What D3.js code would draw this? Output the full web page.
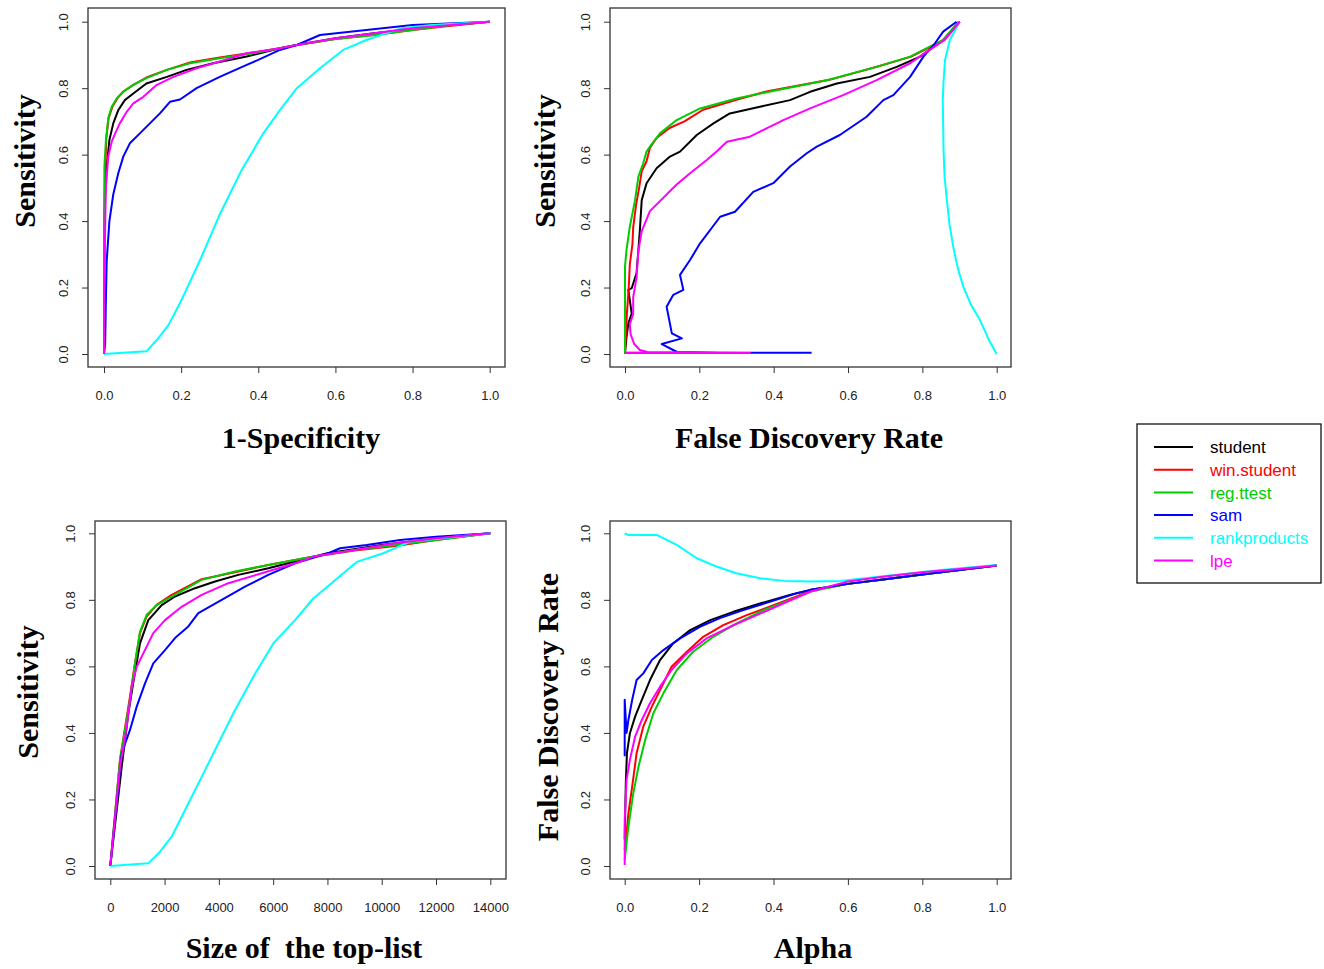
<!DOCTYPE html>
<html>
<head>
<meta charset="utf-8">
<script src="https://cdn.jsdelivr.net/npm/d3@7"></script>
<style>
  html, body { margin: 0; padding: 0; background: #fff; }
  svg { display: block; }
</style>
</head>
<body>
<svg id="chart" width="1324" height="969"></svg>
<script>
// ---------------- DATA ----------------
const methods = ["student", "win.student", "reg.ttest", "sam", "rankproducts", "lpe"];
const methodColors = ["#000000", "#ff0000", "#00cd00", "#0000ff", "#00ffff", "#ff00ff"];

const unitTicks = [0, 0.2, 0.4, 0.6, 0.8, 1.0];
const unitTickLabels = ["0.0", "0.2", "0.4", "0.6", "0.8", "1.0"];
const sizeTicks = [0, 2000, 4000, 6000, 8000, 10000, 12000, 14000];
const sizeTickLabels = ["0", "2000", "4000", "6000", "8000", "10000", "12000", "14000"];

// Panel 1: 1-Specificity vs Sensitivity
const roc_student = [[0,0],[0.001,0.3],[0.003,0.484],[0.007,0.564],[0.014,0.644],[0.024,0.694],[0.037,0.734],[0.054,0.764],[0.076,0.784],[0.11,0.814],[0.163,0.834],[0.214,0.855],[0.283,0.875],[0.37,0.895],[0.456,0.92],[0.5,0.93],[0.6,0.95],[0.7,0.965],[0.8,0.978],[0.9,0.99],[1,1]];
const roc_win = [[0,0],[0,0.38],[0.003,0.55],[0.006,0.65],[0.012,0.71],[0.022,0.745],[0.035,0.77],[0.05,0.79],[0.076,0.81],[0.11,0.832],[0.163,0.855],[0.223,0.877],[0.3,0.892],[0.387,0.907],[0.456,0.92],[0.5,0.93],[0.6,0.948],[0.7,0.96],[0.8,0.975],[0.9,0.988],[1,1]];
const roc_reg = [[0,0],[0,0.213],[0.001,0.564],[0.005,0.644],[0.011,0.709],[0.02,0.744],[0.033,0.769],[0.05,0.789],[0.076,0.81],[0.11,0.83],[0.163,0.855],[0.223,0.875],[0.3,0.89],[0.387,0.905],[0.456,0.92],[0.5,0.93],[0.6,0.948],[0.7,0.96],[0.8,0.975],[0.9,0.99],[1,1]];
const roc_sam = [[0,0],[0.003,0.03],[0.005,0.17],[0.007,0.28],[0.014,0.40],[0.024,0.48],[0.037,0.544],[0.05,0.594],[0.067,0.634],[0.093,0.664],[0.119,0.694],[0.145,0.724],[0.171,0.759],[0.197,0.766],[0.24,0.80],[0.30,0.834],[0.37,0.87],[0.40,0.885],[0.456,0.915],[0.50,0.93],[0.56,0.96],[0.68,0.975],[0.80,0.99],[1,1]];
const roc_rank = [[0,0],[0.11,0.008],[0.137,0.042],[0.167,0.087],[0.2,0.16],[0.25,0.285],[0.3,0.42],[0.357,0.554],[0.413,0.664],[0.456,0.734],[0.5,0.80],[0.56,0.86],[0.62,0.915],[0.68,0.945],[0.77,0.98],[0.85,0.99],[1,1]];
const roc_lpe = [[0,0],[0,0.193],[0.005,0.503],[0.011,0.594],[0.02,0.639],[0.029,0.664],[0.041,0.694],[0.059,0.729],[0.076,0.754],[0.102,0.774],[0.137,0.81],[0.18,0.834],[0.24,0.86],[0.3,0.88],[0.37,0.905],[0.456,0.92],[0.5,0.93],[0.6,0.95],[0.7,0.965],[0.8,0.98],[0.9,0.99],[1,1]];

// Panel 2: False Discovery Rate vs Sensitivity
const fdr_student = [[0.05,0.004],[0,0.004],[0.004,0.05],[0.009,0.092],[0.018,0.122],[0.009,0.193],[0.018,0.198],[0.031,0.243],[0.036,0.313],[0.04,0.373],[0.045,0.463],[0.058,0.514],[0.085,0.559],[0.121,0.594],[0.148,0.609],[0.193,0.659],[0.238,0.694],[0.282,0.724],[0.363,0.744],[0.444,0.764],[0.498,0.789],[0.57,0.814],[0.659,0.834],[0.731,0.864],[0.794,0.895],[0.856,0.945],[0.9,1]];
const fdr_win = [[0,0.004],[0.005,0.12],[0.01,0.2],[0.013,0.27],[0.02,0.33],[0.022,0.38],[0.03,0.45],[0.038,0.5],[0.045,0.55],[0.058,0.58],[0.067,0.62],[0.085,0.65],[0.12,0.68],[0.16,0.70],[0.21,0.735],[0.3,0.765],[0.38,0.79],[0.55,0.825],[0.68,0.865],[0.77,0.895],[0.86,0.945],[0.9,1]];
const fdr_reg = [[0,0.004],[0,0.2],[0,0.263],[0.004,0.313],[0.013,0.383],[0.027,0.463],[0.036,0.534],[0.049,0.574],[0.058,0.609],[0.067,0.624],[0.094,0.664],[0.139,0.704],[0.202,0.739],[0.3,0.769],[0.408,0.794],[0.543,0.824],[0.677,0.864],[0.767,0.895],[0.856,0.945],[0.897,1]];
const fdr_sam = [[0.502,0.004],[0.25,0.004],[0.14,0.006],[0.099,0.03],[0.153,0.047],[0.126,0.062],[0.112,0.142],[0.13,0.178],[0.157,0.193],[0.148,0.238],[0.175,0.283],[0.202,0.333],[0.256,0.413],[0.296,0.428],[0.345,0.488],[0.399,0.514],[0.444,0.564],[0.489,0.604],[0.516,0.624],[0.578,0.659],[0.65,0.714],[0.695,0.764],[0.722,0.779],[0.767,0.834],[0.803,0.895],[0.834,0.935],[0.856,0.97],[0.892,1]];
const fdr_rank = [[1,0],[0.98,0.04],[0.955,0.102],[0.93,0.15],[0.91,0.203],[0.895,0.26],[0.883,0.323],[0.873,0.39],[0.866,0.463],[0.86,0.53],[0.857,0.614],[0.856,0.69],[0.855,0.764],[0.857,0.82],[0.861,0.885],[0.874,0.945],[0.9,1]];
const fdr_lpe = [[0,0.003],[0.336,0.003],[0.06,0.006],[0.04,0.012],[0.025,0.03],[0.015,0.06],[0.013,0.09],[0.022,0.12],[0.022,0.17],[0.031,0.23],[0.036,0.31],[0.045,0.37],[0.067,0.43],[0.094,0.46],[0.139,0.51],[0.175,0.544],[0.22,0.584],[0.251,0.614],[0.274,0.639],[0.336,0.654],[0.426,0.704],[0.498,0.739],[0.587,0.779],[0.677,0.824],[0.767,0.875],[0.812,0.91],[0.86,0.945],[0.901,1]];

// Panel 3: Size of the top-list vs Sensitivity
const top_student = [[0,0],[420,0.298],[664,0.459],[885,0.57],[1094,0.669],[1400,0.739],[1893,0.784],[2384,0.81],[3120,0.835],[3858,0.855],[4716,0.875],[5821,0.895],[6805,0.915],[8000,0.94],[10000,0.965],[12000,0.985],[14000,1]];
const top_win = [[0,0],[357,0.32],[726,0.51],[910,0.61],[1094,0.70],[1339,0.75],[1707,0.785],[2262,0.815],[3365,0.862],[4594,0.883],[5821,0.905],[6805,0.92],[7500,0.93],[9000,0.948],[10500,0.962],[12000,0.98],[14000,1]];
const top_reg = [[0,0],[357,0.318],[726,0.50],[910,0.609],[1094,0.704],[1339,0.755],[1707,0.784],[2262,0.81],[3365,0.86],[4594,0.885],[5821,0.905],[6805,0.92],[7500,0.93],[9000,0.95],[10500,0.965],[12000,0.98],[14000,1]];
const top_sam = [[0,0],[420,0.339],[726,0.409],[973,0.479],[1279,0.549],[1584,0.609],[2015,0.649],[2384,0.685],[2874,0.72],[3242,0.76],[4104,0.80],[4963,0.84],[5821,0.875],[6805,0.91],[8032,0.94],[8463,0.955],[9446,0.965],[10674,0.98],[12000,0.99],[14000,1]];
const top_rank = [[0,0],[1400,0.008],[1831,0.043],[2262,0.088],[2815,0.178],[3551,0.298],[4532,0.459],[5268,0.569],[6005,0.669],[6805,0.739],[7479,0.804],[9078,0.914],[10059,0.94],[11042,0.975],[14000,1]];
const top_lpe = [[0,0],[357,0.298],[604,0.418],[788,0.539],[973,0.599],[1216,0.639],[1584,0.70],[2015,0.739],[2628,0.779],[3365,0.815],[4348,0.85],[5578,0.88],[6805,0.91],[7500,0.93],[9000,0.95],[10500,0.97],[12000,0.985],[14000,1]];

// Panel 4: Alpha vs False Discovery Rate
const al_student = [[0,0.08],[0.003,0.25],[0.006,0.339],[0.014,0.399],[0.028,0.449],[0.046,0.499],[0.068,0.559],[0.095,0.619],[0.13,0.669],[0.176,0.709],[0.23,0.739],[0.292,0.764],[0.364,0.789],[0.444,0.815],[0.5,0.83],[0.6,0.848],[0.7,0.862],[0.8,0.876],[0.9,0.89],[1,0.903]];
const al_win = [[0,0.05],[0.004,0.088],[0.01,0.158],[0.02,0.238],[0.032,0.339],[0.05,0.419],[0.073,0.479],[0.095,0.529],[0.126,0.599],[0.167,0.644],[0.211,0.689],[0.265,0.724],[0.328,0.754],[0.40,0.784],[0.462,0.81],[0.5,0.828],[0.6,0.848],[0.7,0.862],[0.8,0.876],[0.9,0.89],[1,0.903]];
const al_reg = [[0,0.018],[0.01,0.118],[0.023,0.218],[0.037,0.298],[0.055,0.379],[0.077,0.459],[0.104,0.519],[0.14,0.589],[0.184,0.644],[0.238,0.689],[0.301,0.729],[0.373,0.769],[0.444,0.80],[0.5,0.825],[0.6,0.848],[0.7,0.862],[0.8,0.876],[0.9,0.89],[1,0.903]];
const al_sam = [[0,0.33],[0,0.5],[0.005,0.40],[0.01,0.439],[0.02,0.499],[0.032,0.559],[0.05,0.579],[0.073,0.619],[0.104,0.649],[0.149,0.684],[0.202,0.719],[0.256,0.745],[0.319,0.769],[0.39,0.794],[0.462,0.82],[0.5,0.83],[0.6,0.848],[0.7,0.862],[0.8,0.876],[0.9,0.89],[1,0.903]];
const al_rank = [[0,1.0],[0.01,0.995],[0.086,0.995],[0.14,0.965],[0.194,0.925],[0.247,0.90],[0.30,0.88],[0.364,0.865],[0.43,0.857],[0.5,0.855],[0.58,0.857],[0.7,0.872],[0.85,0.89],[1,0.905]];
const al_lpe = [[0,0.003],[0,0.138],[0.005,0.259],[0.014,0.319],[0.028,0.389],[0.046,0.439],[0.068,0.489],[0.095,0.539],[0.126,0.589],[0.167,0.639],[0.22,0.684],[0.283,0.719],[0.355,0.754],[0.426,0.789],[0.5,0.825],[0.6,0.855],[0.7,0.87],[0.8,0.883],[0.9,0.893],[1,0.903]];

// ---------------- LAYOUT ----------------
const panels = [
  { series: [roc_student, roc_win, roc_reg, roc_sam, roc_rank, roc_lpe],
    xDomain: [0, 1], xTicks: unitTicks, xLabels: unitTickLabels,
    box: [88, 8, 505, 367], xr: [104, 489.7], yr: [354, 21.7],
    xTitle: "1-Specificity", xTitlePos: [301, 448],
    yTitle: "Sensitivity", yTitlePos: [35, 161] },
  { series: [fdr_student, fdr_win, fdr_reg, fdr_sam, fdr_rank, fdr_lpe],
    xDomain: [0, 1], xTicks: unitTicks, xLabels: unitTickLabels,
    box: [610, 8, 1011, 367], xr: [625, 996.7], yr: [354, 21.7],
    xTitle: "False Discovery Rate", xTitlePos: [809, 448],
    yTitle: "Sensitivity", yTitlePos: [555, 161] },
  { series: [top_student, top_win, top_reg, top_sam, top_rank, top_lpe],
    xDomain: [0, 14000], xTicks: sizeTicks, xLabels: sizeTickLabels,
    box: [95, 521, 506, 879], xr: [110.3, 490.3], yr: [866, 533.3],
    xTitle: "Size of\u00a0 the top-list", xTitlePos: [304, 958],
    yTitle: "Sensitivity", yTitlePos: [38, 692] },
  { series: [al_student, al_win, al_reg, al_sam, al_rank, al_lpe],
    xDomain: [0, 1], xTicks: unitTicks, xLabels: unitTickLabels,
    box: [610, 521, 1011, 879], xr: [624.7, 996.7], yr: [866, 533.3],
    xTitle: "Alpha", xTitlePos: [813, 958],
    yTitle: "False Discovery Rate", yTitlePos: [558, 707] }
];

const svg = d3.select("#chart");
const tickFont = "Liberation Sans, Arial, sans-serif";
const titleFont = "Liberation Serif, Times New Roman, serif";

panels.forEach(p => {
  const x = d3.scaleLinear().domain(p.xDomain).range(p.xr);
  const y = d3.scaleLinear().domain([0, 1]).range(p.yr);
  const [bx0, by0, bx1, by1] = p.box;

  // lines
  const line = d3.line().x(d => x(d[0])).y(d => y(d[1]));
  p.series.forEach((s, i) => {
    svg.append("path")
      .datum(s)
      .attr("d", line)
      .attr("fill", "none")
      .attr("stroke", methodColors[i])
      .attr("stroke-width", 2)
      .attr("stroke-linejoin", "round");
  });

  // box
  svg.append("rect")
    .attr("x", bx0).attr("y", by0)
    .attr("width", bx1 - bx0).attr("height", by1 - by0)
    .attr("fill", "none").attr("stroke", "#333").attr("stroke-width", 1.3);

  // x axis
  const xa = svg.append("g")
    .attr("transform", `translate(0,${by1})`)
    .call(d3.axisBottom(x).tickValues(p.xTicks)
      .tickFormat((d, i) => p.xLabels[i]).tickSize(6).tickSizeOuter(0));
  xa.select(".domain").remove();
  xa.selectAll(".tick line").attr("stroke", "#333").attr("stroke-width", 1);
  xa.selectAll(".tick text")
    .attr("y", 33).attr("dy", 0)
    .attr("fill", "#222")
    .style("font-family", tickFont).style("font-size", "13px");

  // y axis
  const ya = svg.append("g")
    .attr("transform", `translate(${bx0},0)`)
    .call(d3.axisLeft(y).tickValues(unitTicks)
      .tickFormat((d, i) => unitTickLabels[i]).tickSize(6).tickSizeOuter(0));
  ya.select(".domain").remove();
  ya.selectAll(".tick line").attr("stroke", "#333").attr("stroke-width", 1);
  ya.selectAll(".tick text")
    .attr("x", 0).attr("y", -20).attr("dy", 0)
    .attr("text-anchor", "middle")
    .attr("transform", "rotate(-90)")
    .attr("fill", "#222")
    .style("font-family", tickFont).style("font-size", "13px");

  // titles
  svg.append("text")
    .attr("x", p.xTitlePos[0]).attr("y", p.xTitlePos[1])
    .attr("text-anchor", "middle")
    .style("font-family", titleFont).style("font-weight", "bold").style("font-size", "30px")
    .text(p.xTitle);
  svg.append("text")
    .attr("transform", `translate(${p.yTitlePos[0]},${p.yTitlePos[1]}) rotate(-90)`)
    .attr("text-anchor", "middle")
    .style("font-family", titleFont).style("font-weight", "bold").style("font-size", "30px")
    .text(p.yTitle);
});

// legend
const lg = svg.append("g");
lg.append("rect")
  .attr("x", 1137).attr("y", 424).attr("width", 184).attr("height", 159)
  .attr("fill", "#fff").attr("stroke", "#111").attr("stroke-width", 1.3);
const rowY = d3.scaleLinear().domain([0, methods.length - 1]).range([447, 560.5]);
methods.forEach((m, i) => {
  lg.append("line")
    .attr("x1", 1154).attr("x2", 1193)
    .attr("y1", rowY(i)).attr("y2", rowY(i))
    .attr("stroke", methodColors[i]).attr("stroke-width", 2);
  lg.append("text")
    .attr("x", 1210).attr("y", rowY(i)).attr("dy", "0.36em")
    .attr("fill", methodColors[i])
    .style("font-family", tickFont).style("font-size", "17px")
    .text(m);
});
</script>
</body>
</html>
